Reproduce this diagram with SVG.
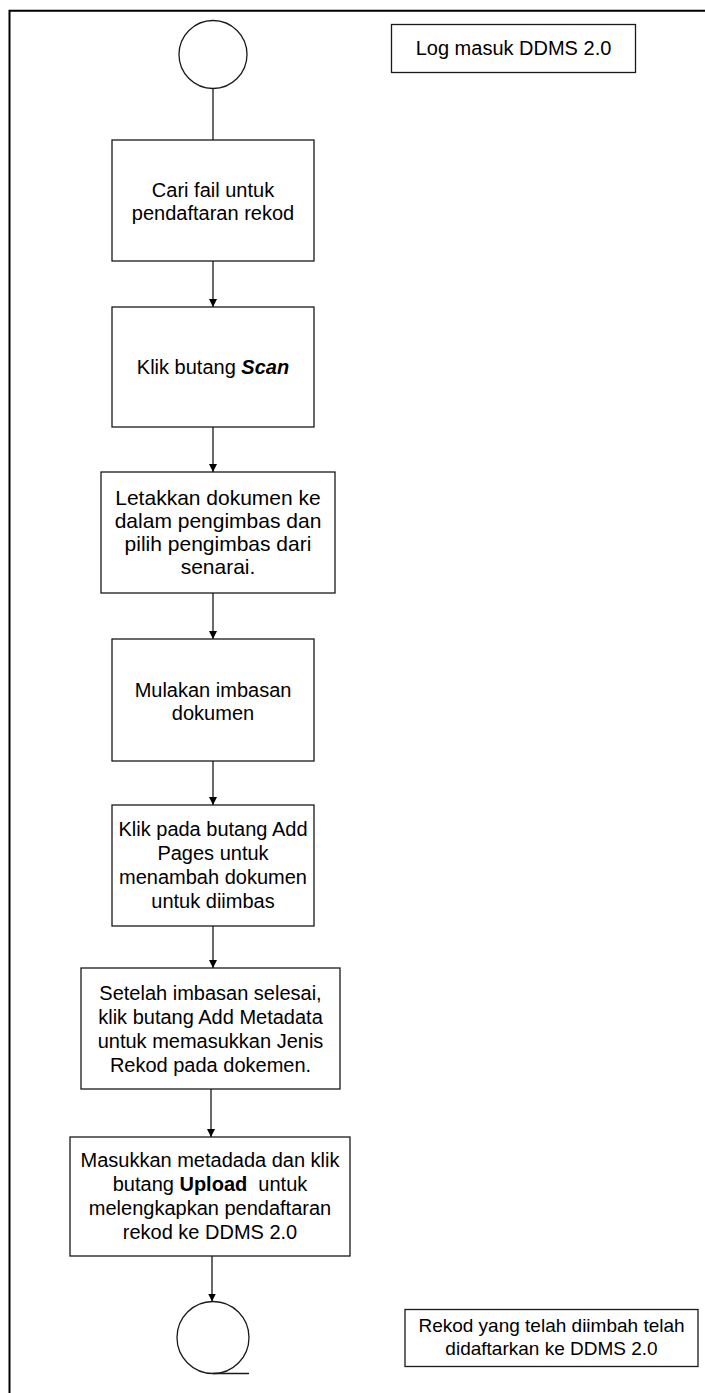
<svg xmlns="http://www.w3.org/2000/svg" width="705" height="1393" viewBox="0 0 705 1393">
<style>
.box{fill:#fff;stroke:#1a1a1a;stroke-width:1.3}
.t{font-family:"Liberation Sans",Arial,sans-serif;font-size:20px;fill:#000;text-anchor:middle}
.c{fill:none;stroke:#1a1a1a;stroke-width:1.3}
</style>
<defs>
<marker id="ah" markerWidth="8" markerHeight="8" refX="8" refY="4" orient="auto" markerUnits="userSpaceOnUse">
<path d="M0,0 L8,4 L0,8 Z" fill="#000"/>
</marker>
</defs>
<rect width="705" height="1393" fill="#fff"/>
<path d="M9.5,1393 V10.7 H705" fill="none" stroke="#000" stroke-width="2"/>

<g id="start"><circle cx="213" cy="54.5" r="34" class="box"/></g>
<g id="note-login"><rect x="391.5" y="24.5" width="244" height="48" class="box"/><text class="t" x="513.5" y="55">Log masuk DDMS 2.0</text></g>

<g id="n1"><rect x="112" y="140" width="202" height="121" class="box"/>
<text class="t" x="213" y="197">Cari fail untuk</text><text class="t" x="213" y="220">pendaftaran rekod</text></g>

<g id="n2"><rect x="112" y="307" width="202" height="120" class="box"/>
<text class="t" x="213" y="374">Klik butang <tspan font-weight="bold" font-style="italic">Scan</tspan></text></g>

<g id="n3"><rect x="101" y="472" width="234" height="121" class="box"/>
<text class="t" style="font-size:21px" x="218" y="505">Letakkan dokumen ke</text>
<text class="t" style="font-size:21px" x="218" y="528">dalam pengimbas dan</text>
<text class="t" style="font-size:21px" x="218" y="551">pilih pengimbas dari</text>
<text class="t" style="font-size:21px" x="218" y="574">senarai.</text></g>

<g id="n4"><rect x="112" y="639" width="202" height="122" class="box"/>
<text class="t" x="213" y="697">Mulakan imbasan</text><text class="t" x="213" y="720">dokumen</text></g>

<g id="n5"><rect x="112" y="805" width="202" height="121" class="box"/>
<text class="t" x="213" y="836">Klik pada butang Add</text>
<text class="t" x="213" y="860">Pages untuk</text>
<text class="t" x="213" y="884">menambah dokumen</text>
<text class="t" x="213" y="908">untuk diimbas</text></g>

<g id="n6"><rect x="81" y="968" width="259" height="121" class="box"/>
<text class="t" x="210.5" y="1000">Setelah imbasan selesai,</text>
<text class="t" x="210.5" y="1024">klik butang Add Metadata</text>
<text class="t" x="210.5" y="1048">untuk memasukkan Jenis</text>
<text class="t" x="210.5" y="1072">Rekod pada dokemen.</text></g>

<g id="n7"><rect x="70" y="1137" width="280" height="119" class="box"/>
<text class="t" x="210" y="1167">Masukkan metadada dan klik</text>
<text class="t" x="210" y="1191" xml:space="preserve">butang <tspan font-weight="bold">Upload</tspan>  untuk</text>
<text class="t" x="210" y="1215">melengkapkan pendaftaran</text>
<text class="t" x="210" y="1239">rekod ke DDMS 2.0</text></g>

<g id="end"><circle cx="213" cy="1337.5" r="36" class="box"/><line x1="213" y1="1373.5" x2="249" y2="1373.5" class="c"/></g>

<g id="note-end"><rect x="405" y="1309.5" width="293" height="57" class="box"/>
<text class="t" style="font-size:19px" x="551.5" y="1332">Rekod yang telah diimbah telah</text>
<text class="t" style="font-size:19px" x="551.5" y="1355">didaftarkan ke DDMS 2.0</text></g>

<g id="connectors">
<line x1="213" y1="88.5" x2="213" y2="140" class="c"/>
<line x1="213" y1="261" x2="213" y2="307" class="c" marker-end="url(#ah)"/>
<line x1="213" y1="427" x2="213" y2="472" class="c" marker-end="url(#ah)"/>
<line x1="213" y1="593" x2="213" y2="639" class="c" marker-end="url(#ah)"/>
<line x1="213" y1="761" x2="213" y2="805" class="c" marker-end="url(#ah)"/>
<line x1="213" y1="926" x2="213" y2="968" class="c" marker-end="url(#ah)"/>
<line x1="211" y1="1089" x2="211" y2="1137" class="c" marker-end="url(#ah)"/>
<line x1="212" y1="1256" x2="212" y2="1301.5" class="c" marker-end="url(#ah)"/>
</g>
</svg>
